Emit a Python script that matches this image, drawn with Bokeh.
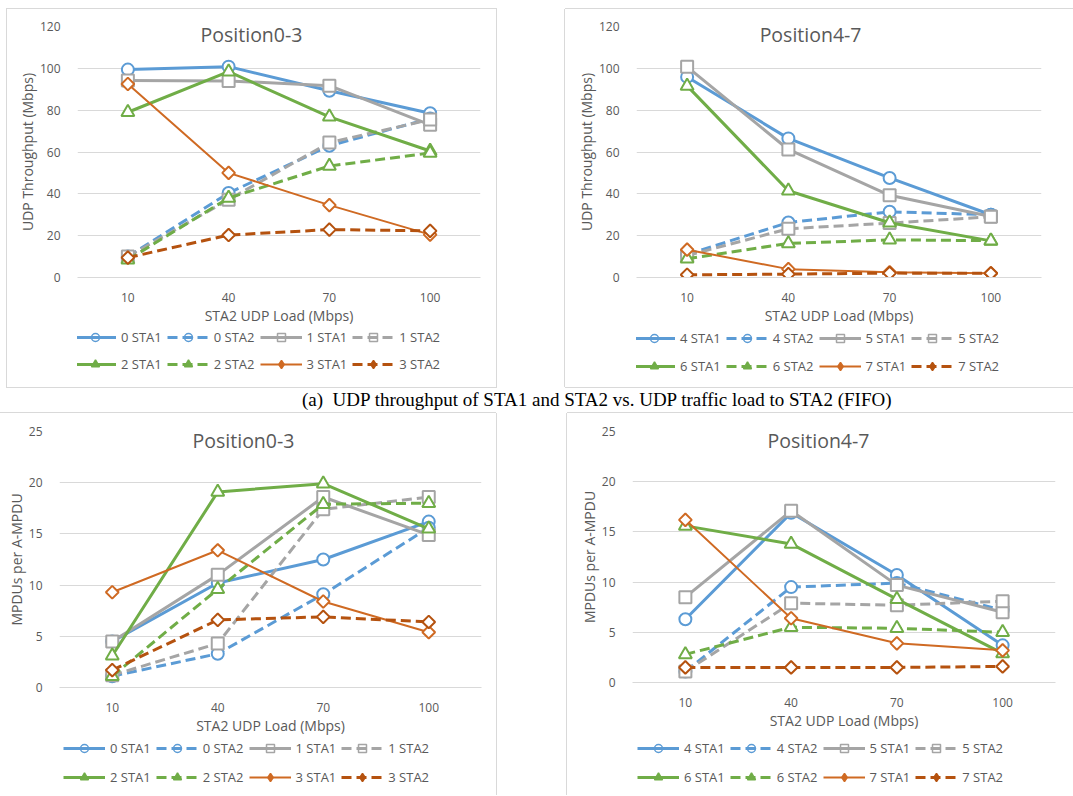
import numpy as np
from bokeh.plotting import figure
from bokeh.models import (Range1d, FactorRange, Legend, LegendItem, Label,
                          SingleIntervalTicker, Div, Spacer)
from bokeh.layouts import column, row
from bokeh.embed import file_html
from bokeh.resources import INLINE

# ---------------- data ----------------
loads = ["10", "40", "70", "100"]

# (a) UDP throughput (Mbps), Position0-3
thr_0_sta1 = [99.4, 100.8, 89.3, 78.5]
thr_0_sta2 = [10.0, 40.4, 63.0, 76.0]
thr_1_sta1 = [94.2, 94.0, 91.7, 73.0]
thr_1_sta2 = [10.0, 37.2, 64.5, 75.5]
thr_2_sta1 = [79.0, 98.4, 76.8, 60.5]
thr_2_sta2 = [8.5, 38.0, 53.3, 59.5]
thr_3_sta1 = [92.5, 50.0, 34.6, 20.5]
thr_3_sta2 = [9.5, 20.3, 22.9, 22.3]
# Position4-7
thr_4_sta1 = [95.9, 66.5, 47.6, 30.0]
thr_4_sta2 = [11.0, 26.3, 31.4, 30.0]
thr_5_sta1 = [100.7, 61.2, 39.3, 29.2]
thr_5_sta2 = [10.5, 23.3, 26.0, 29.0]
thr_6_sta1 = [91.6, 41.5, 26.2, 17.5]
thr_6_sta2 = [9.0, 16.3, 18.0, 17.6]
thr_7_sta1 = [13.3, 4.0, 2.5, 2.0]
thr_7_sta2 = [1.3, 1.6, 2.1, 2.0]

# MPDUs per A-MPDU, Position0-3
mp_0_sta1 = [4.5, 10.2, 12.5, 16.2]
mp_0_sta2 = [1.1, 3.3, 9.1, 15.6]
mp_1_sta1 = [4.5, 11.0, 18.6, 14.9]
mp_1_sta2 = [1.2, 4.3, 17.4, 18.6]
mp_2_sta1 = [3.1, 19.1, 19.9, 15.5]
mp_2_sta2 = [1.1, 9.6, 17.9, 18.0]
mp_3_sta1 = [9.3, 13.4, 8.4, 5.4]
mp_3_sta2 = [1.7, 6.6, 6.9, 6.4]
# Position4-7
mp_4_sta1 = [6.3, 16.9, 10.7, 3.7]
mp_4_sta2 = [1.1, 9.5, 9.9, 7.2]
mp_5_sta1 = [8.5, 17.1, 9.7, 7.0]
mp_5_sta2 = [1.1, 7.9, 7.7, 8.1]
mp_6_sta1 = [15.6, 13.8, 8.3, 2.9]
mp_6_sta2 = [2.8, 5.5, 5.4, 5.0]
mp_7_sta1 = [16.2, 6.4, 3.9, 3.2]
mp_7_sta2 = [1.5, 1.5, 1.5, 1.6]

caption = "(a)\u00a0\u00a0UDP throughput of STA1 and STA2 vs. UDP traffic load to STA2 (FIFO)"

# ---------------- style ----------------
FONT = "Open Sans"
TXT = "#595959"
GRID = "#D9D9D9"
sta1_colors = ["#5B9BD5", "#A5A5A5", "#70AD47", "#CF6A23"]
sta2_colors = ["#5B9BD5", "#A5A5A5", "#70AD47", "#B5520F"]
markers = ["circle", "square", "triangle", "square"]
leg_markers = ["circle", "square", "triangle", "diamond"]
angles = [0, 0, 0, np.pi / 4]
sizes = [12, 12, 13, 9]
leg_fill = [False, False, True, True]
sta1_widths = [3, 3, 3, 2]


def make_panel(groups, ids, yr, yint, ytitle, title, title_xy, dims, leg_dims, shadow):
    width, height, bl, br, bt, bb = dims
    leg_h, leg_x, leg_y1, leg_y2 = leg_dims
    p = figure(width=width, height=height, x_range=FactorRange(factors=loads),
               y_range=Range1d(*yr), output_backend="svg", toolbar_location=None,
               min_border_left=bl, min_border_right=br, min_border_top=bt,
               min_border_bottom=bb)
    p.background_fill_color = "white"
    p.border_fill_color = "white"
    p.outline_line_color = None
    p.xgrid.grid_line_color = None
    p.ygrid.grid_line_color = GRID
    p.ygrid.grid_line_width = 1
    p.yaxis.ticker = SingleIntervalTicker(interval=yint)
    for ax in (p.xaxis[0], p.yaxis[0]):
        ax.major_tick_line_color = None
        ax.minor_tick_line_color = None
        ax.major_tick_out = 0
        ax.major_tick_in = 0
        ax.major_label_text_font = FONT
        ax.major_label_text_font_size = "12px"
        ax.major_label_text_color = TXT
        ax.axis_label_text_font = FONT
        ax.axis_label_text_font_size = "14px"
        ax.axis_label_text_color = TXT
        ax.axis_label_text_font_style = "normal"
    p.yaxis.axis_line_color = None
    p.xaxis.axis_line_color = GRID
    p.xaxis.major_label_standoff = 15
    p.yaxis.major_label_standoff = 13
    p.xaxis.axis_label_standoff = 1
    p.yaxis.axis_label_standoff = 0
    p.xaxis.axis_label = "STA2 UDP Load (Mbps)"
    p.yaxis.axis_label = ytitle

    p.add_layout(Label(x=title_xy[0], y=title_xy[1], text=title, text_font=FONT,
                       text_font_size="19.5px", text_color=TXT, text_align="center",
                       text_baseline="middle"))

    # legend strip (its own small figure under the chart)
    q = figure(width=width, height=leg_h, x_range=Range1d(0, 1), y_range=Range1d(0, 1),
               output_backend="svg", toolbar_location=None, x_axis_location=None,
               y_axis_location=None, min_border=0, min_border_left=0,
               min_border_right=0, min_border_top=0, min_border_bottom=0)
    q.grid.visible = False
    q.outline_line_color = None
    q.background_fill_color = "white"
    q.border_fill_color = "white"

    items = []
    for i, (s1, s2) in enumerate(groups):
        for k, (vals, dash, col, lw) in enumerate([
                (s1, "solid", sta1_colors[i], sta1_widths[i]),
                (s2, "10 5", sta2_colors[i], 3)]):
            p.line(x=loads, y=vals, line_color=col, line_width=lw, line_dash=dash)
            p.scatter(x=loads, y=vals, marker=markers[i], size=sizes[i], angle=angles[i],
                      line_color=col, line_width=2, fill_color="white")
            ln = q.line(x=[np.nan], y=[np.nan], line_color=col, line_width=lw,
                        line_dash=dash)
            mk = q.scatter(x=[np.nan], y=[np.nan], marker=leg_markers[i],
                           line_color=col, line_width=1.5,
                           fill_color=col if leg_fill[i] else None)
            label = f"{ids[i]} STA{k + 1}"
            items.append(LegendItem(label=label, renderers=[ln, mk]))

    rows = [[items[0], items[1], items[2], items[3]],
            [items[4], items[5], items[6], items[7]]]
    for r, ly in zip(rows, (leg_y1, leg_y2)):
        lg = Legend(items=r, location=(leg_x, ly), orientation="horizontal",
                    glyph_width=42, glyph_height=20, label_height=20,
                    label_standoff=5, spacing=5, padding=0, margin=0,
                    border_line_color=None, background_fill_alpha=0,
                    label_text_font=FONT, label_text_font_size="13px",
                    label_text_color=TXT)
        q.add_layout(lg, "center")

    col_layout = column(p, q)
    col_layout.styles = {"box-shadow": shadow}
    return col_layout


S_ALL = "0 0 0 1px #D9D9D9"
S_LTB = "-1px 0 0 0 #D9D9D9, 0 -1px 0 0 #D9D9D9, 0 1px 0 0 #D9D9D9"
S_TR = "0 -1px 0 0 #D9D9D9, 1px 0 0 0 #D9D9D9"
S_LT = "-1px 0 0 0 #D9D9D9, 0 -1px 0 0 #D9D9D9"

c1 = make_panel([(thr_0_sta1, thr_0_sta2), (thr_1_sta1, thr_1_sta2),
                 (thr_2_sta1, thr_2_sta2), (thr_3_sta1, thr_3_sta2)],
                [0, 1, 2, 3], (0, 120), 20, "UDP Throughput (Mbps)", "Position0-3",
                (1.727, 116), (489, 318, 70, 16, 17, 50),
                (60, -3, 40, 13), S_ALL)
c2 = make_panel([(thr_4_sta1, thr_4_sta2), (thr_5_sta1, thr_5_sta2),
                 (thr_6_sta1, thr_6_sta2), (thr_7_sta1, thr_7_sta2)],
                [4, 5, 6, 7], (0, 120), 20, "UDP Throughput (Mbps)", "Position4-7",
                (1.719, 116), (508, 318, 71, 32, 17, 50),
                (60, -3, 39, 11), S_LTB)
c3 = make_panel([(mp_0_sta1, mp_0_sta2), (mp_1_sta1, mp_1_sta2),
                 (mp_2_sta1, mp_2_sta2), (mp_3_sta1, mp_3_sta2)],
                [0, 1, 2, 3], (0, 25), 5, "MPDUs per A-MPDU", "Position0-3",
                (1.744, 24.1), (496, 324, 59, 15, 18, 49),
                (58, 4, 37, 8), S_TR)
c4 = make_panel([(mp_4_sta1, mp_4_sta2), (mp_5_sta1, mp_5_sta2),
                 (mp_6_sta1, mp_6_sta2), (mp_7_sta1, mp_7_sta2)],
                [4, 5, 6, 7], (0, 25), 5, "MPDUs per A-MPDU", "Position4-7",
                (1.759, 24.1), (506, 322, 65, 18, 18, 53),
                (60, 5, 37, 8), S_LT)

cap = Div(text=caption, width=700, height=26, margin=0,
          styles={"font-family": "'Liberation Serif', 'Times New Roman', serif",
                  "font-size": "19px", "color": "black", "line-height": "26px",
                  "white-space": "nowrap"})

layout = column(
    Spacer(width=10, height=9),
    row(Spacer(width=7, height=378), c1, Spacer(width=69, height=378), c2),
    row(Spacer(width=302, height=26), cap),
    row(c3, Spacer(width=71, height=382), c4),
)

open("out.html", "w").write(file_html(layout, INLINE))
